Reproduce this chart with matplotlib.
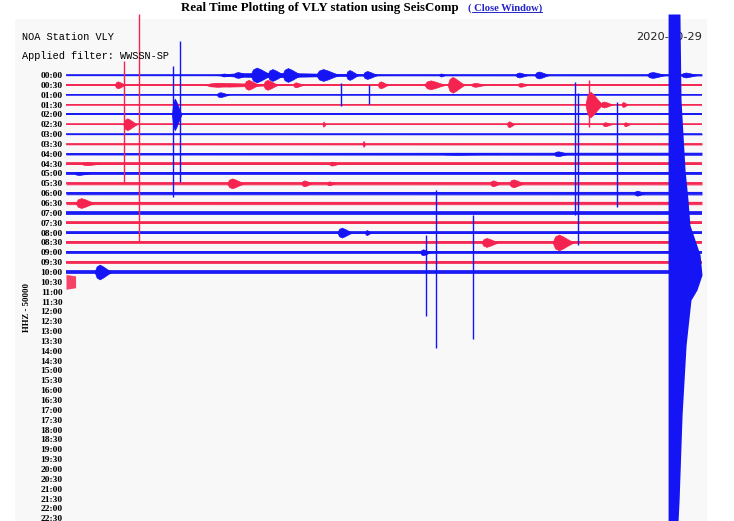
import matplotlib
matplotlib.use("Agg")
import matplotlib.pyplot as plt
from matplotlib.patches import Rectangle
from matplotlib.lines import Line2D
import numpy as np

# helicorder rows: one every 30 min, 00:00 .. 22:30
row_labels = ["%02d:%02d" % (h, m) for h in range(23) for m in (0, 30)]

# trace rows that have data (0 = 00:00 ... 21 = 10:30), x in minutes within the row
trace_end = [30] * 21 + [0.45]
# background noise half-amplitude (amp units, 10 = one row spacing) at start / end of row
noise_start = [0.7, 1.0, 0.4, 0.5, 1.0, 0.5, 0.6, 0.9, 1.2, 1.9, 1.9,
               1.5, 1.6, 1.6, 1.8, 1.7, 1.8, 1.5, 1.8, 1.5, 1.9, 7.5]
noise_end = [1.0, 1.0, 0.4, 0.5, 1.0, 0.5, 0.8, 1.1, 1.6, 1.9, 1.9,
             1.6, 1.8, 1.7, 1.8, 1.7, 1.8, 1.5, 1.8, 1.5, 1.9, 6.0]

# local events: row, start minute, duration (min), half amplitude
ev_row = [0, 0, 0, 0, 0, 0, 0, 0, 0, 0, 0, 0, 0, 0,
          1, 1, 1, 1, 1, 1, 1, 1, 1, 1, 1,
          2, 3, 3, 3, 4, 5, 5, 5, 5, 5, 7, 8, 8, 9, 9, 10,
          11, 11, 11, 11, 11, 12, 13, 16, 16, 17, 17, 18, 20]
ev_start = [7.0, 7.3, 7.9, 8.7, 9.5, 10.2, 11.8, 13.2, 14.0, 17.6, 21.2, 22.1, 27.4, 29.0,
            6.5, 2.3, 6.6, 8.4, 9.3, 10.7, 14.7, 16.9, 18.0, 19.1, 21.3,
            7.1, 24.5, 25.2, 26.2, 5.0, 2.7, 12.1, 20.8, 25.3, 26.3, 14.0, 23.0, 17.6, 0.7, 12.4, 0.4,
            7.6, 11.1, 12.3, 20.0, 20.9, 26.8, 0.45, 12.8, 14.1, 19.6, 22.95, 16.7, 1.35]
ev_dur = [8.5, 0.5, 0.7, 1.0, 0.8, 0.9, 1.1, 0.6, 0.7, 0.3, 0.6, 0.7, 0.9, 0.8,
          4.0, 0.5, 1.8, 0.7, 0.7, 0.5, 0.5, 1.0, 0.8, 0.7, 0.5,
          0.6, 0.8, 0.6, 0.3, 0.45, 0.65, 0.15, 0.35, 0.45, 0.3, 0.12, 0.7, 2.8, 1.0, 0.5, 0.7,
          0.8, 0.5, 0.4, 0.5, 0.7, 0.5, 0.9, 0.7, 0.3, 0.8, 1.0, 0.5, 0.8]
ev_amp = [2.2, 1.5, 3, 7.5, 6, 7, 6, 5, 4, 1.5, 2.5, 3.5, 3, 2.5,
          1.8, 3.5, 2, 5, 5, 2.5, 3.5, 4.5, 8, 2, 2,
          2.5, 13, 3, 2.5, 16, 6, 2.5, 3, 2, 2, 3, 2.5, 1.0, 1.5, 2, 1.5,
          5, 3, 2, 3, 4, 2.5, 5, 5, 2.5, 4.5, 8, 3, 7.5]

# single large spikes: minute, top row, bottom row, colour
spike_min = [2.74, 3.44, 5.05, 5.38, 12.97, 14.29, 16.98, 17.45, 19.20, 24.01, 24.15, 25.99, 24.67]
spike_top = [-1.42, -6.19, -0.91, -3.45, 0.81, 1.02, 16.24, 11.68, 14.21, 0.71, 1.83, 2.74, 0.51]
spike_bot = [10.96, 16.95, 12.39, 10.86, 3.15, 2.94, 24.47, 27.72, 26.80, 14.21, 17.26, 13.40, 5.28]
spike_red = [1, 1, 0, 0, 0, 0, 0, 0, 0, 0, 0, 0, 1]

# the big earthquake in the 10:00 row (clipped), right edge in minutes per row
quake_rows = [-6.19, 2.54, 9.64, 12.69, 15.23, 18.27, 20.30, 21.83, 22.84, 27.41, 34.52, 43.15, 45.28]
quake_right = [28.96, 29.01, 29.20, 29.34, 29.43, 29.91, 30.0, 29.76, 29.48, 29.25, 29.06, 28.92, 28.87]
quake_left = 28.40

BLUE = "#1414f5"
RED = "#f5234f"
AMP_PER_ROW = 10.0
# burst outline: quick onset, slower coda
SHAPE_T = np.array([0, 0.12, 0.3, 0.5, 0.75, 1.0])
SHAPE_A = np.array([0, 0.75, 1.0, 0.75, 0.35, 0])

fig = plt.figure(figsize=(7.34, 5.21), dpi=100)
fig.patch.set_facecolor("white")
fig.patches.append(Rectangle((15 / 734, 0), 692 / 734, 502 / 521, transform=fig.transFigure,
                             facecolor="#f8f8f8", edgecolor="none", zorder=-5))

ax = fig.add_axes([66 / 734, 0, 636 / 734, 507 / 521])
ax.set_facecolor("none")
ax.set_xlim(0, 30)
ax.set_ylim(45.28, -6.19)
for s in ax.spines.values():
    s.set_visible(False)
ax.set_xticks([])
ax.set_yticks(range(len(row_labels)))
ax.set_yticklabels(row_labels, fontfamily="Liberation Serif", fontweight="bold", fontsize=6.8)
ax.tick_params(axis="y", length=0, pad=2.5)

for r in range(len(trace_end)):
    col = BLUE if r % 2 == 0 else RED
    xs = np.array([0, trace_end[r]])
    amp = np.array([noise_start[r], noise_end[r]]) / AMP_PER_ROW
    ax.fill_between(xs, r - amp, r + amp, color=col, lw=0, alpha=0.85, zorder=2)
    if r < 21:
        ax.plot(xs, [r, r], color=col, lw=1.1, zorder=2)

for r, s, d, a in zip(ev_row, ev_start, ev_dur, ev_amp):
    col = BLUE if r % 2 == 0 else RED
    ex = s + SHAPE_T * d
    ea = SHAPE_A * a / AMP_PER_ROW
    ax.fill_between(ex, r - ea, r + ea, color=col, lw=0.5, edgecolor=col, zorder=3)

for m, t, b, red in zip(spike_min, spike_top, spike_bot, spike_red):
    ax.vlines(m, t, b, color=RED if red else BLUE, lw=1.0, zorder=4)

ax.fill_betweenx(quake_rows, quake_left, quake_right, color=BLUE, lw=0, zorder=6)

# header texts
ax.text(636 / 734, 1 - 37 / 521, "2020-10-29", transform=fig.transFigure, fontsize=8.2,
        fontfamily="DejaVu Sans", va="center", ha="left", color="#222222", zorder=1)
fig.text(22 / 734, 1 - 37 / 521, "NOA Station VLY", fontsize=7.4,
         fontfamily="Liberation Mono", va="center", color="black")
fig.text(22 / 734, 1 - 56 / 521, "Applied filter: WWSSN-SP", fontsize=7.4,
         fontfamily="Liberation Mono", va="center", color="black")
fig.text(27 / 734, 1 - 307 / 521, "HHZ - 50000", rotation=90, fontsize=6.3,
         fontfamily="Liberation Serif", fontweight="bold", va="center", ha="center")

fig.text(181 / 734, 1 - 8 / 521, "Real Time Plotting of VLY station using SeisComp",
         fontsize=9.3, fontfamily="Liberation Serif", fontweight="bold", va="center")
link = fig.text(468 / 734, 1 - 8 / 521, "( Close Window)", fontsize=7.6,
                fontfamily="Liberation Serif", fontweight="bold", va="center", color="#2424c8")
fig.canvas.draw()
bb = link.get_window_extent().transformed(fig.transFigure.inverted())
fig.add_artist(Line2D([bb.x0 + 0.006, bb.x1], [bb.y0 + 0.002, bb.y0 + 0.002],
                      transform=fig.transFigure, color="#2424c8", lw=0.7))

fig.savefig("out.png", dpi=100)
